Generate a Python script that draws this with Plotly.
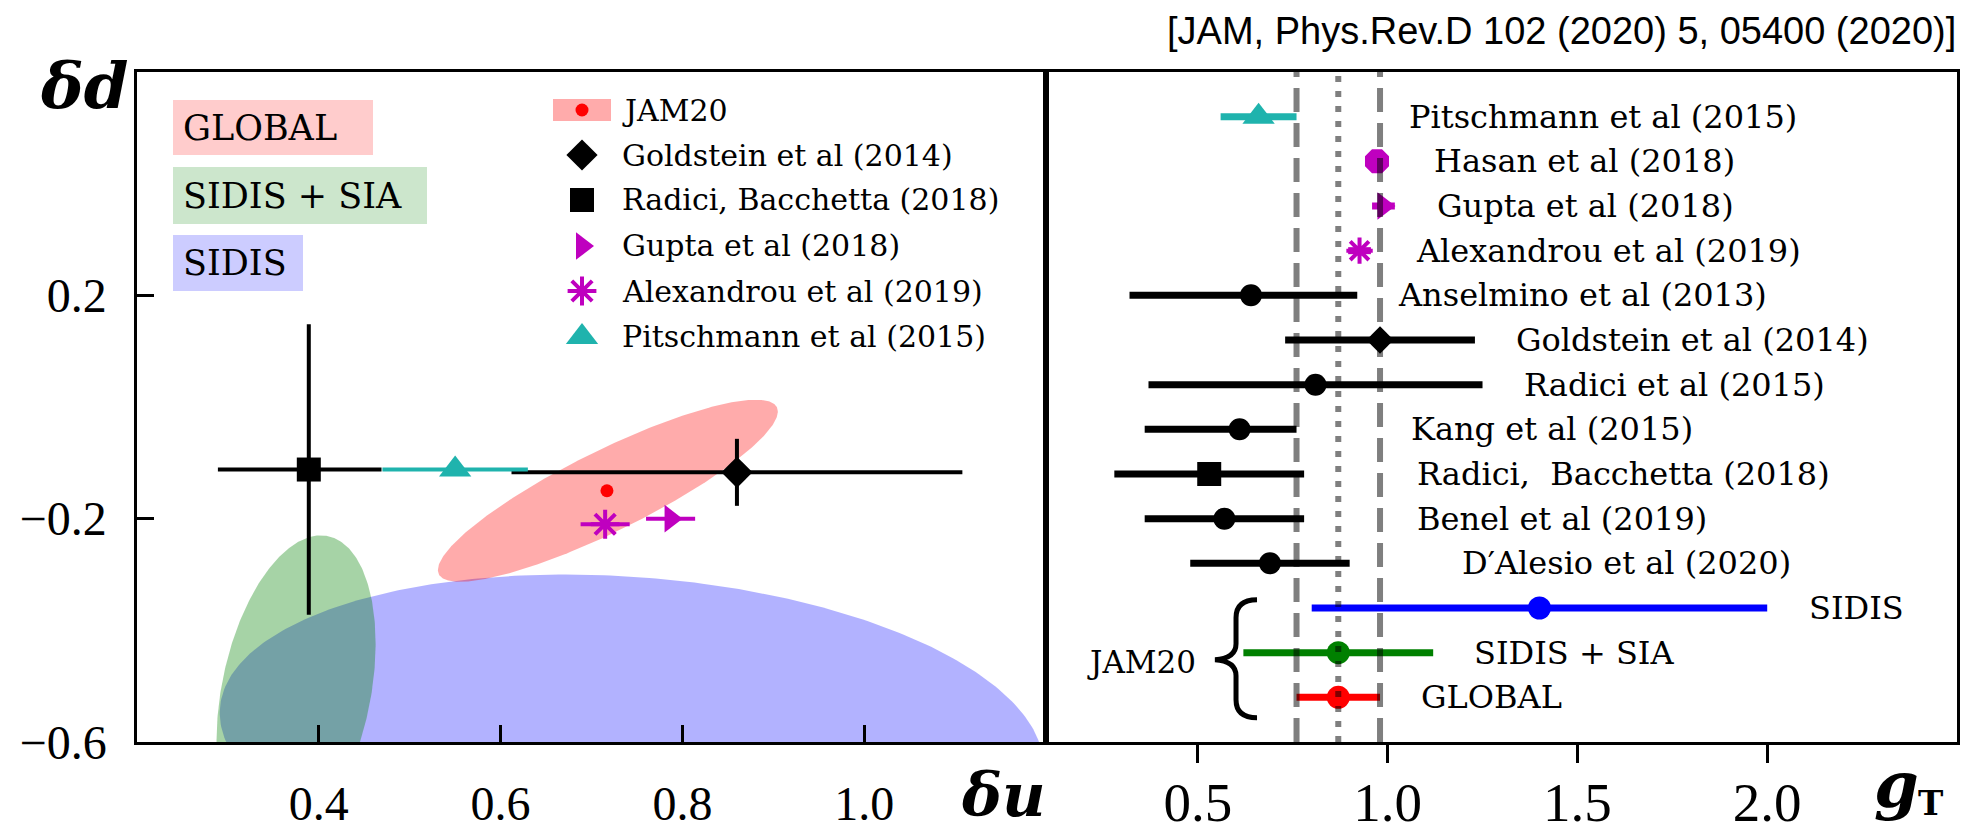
import numpy as np
import plotly.graph_objects as go

W, H = 1963, 833

# ---------------- left panel: (δu, δd) ----------------
pt_names = ["JAM20", "Goldstein et al (2014)", "Radici, Bacchetta (2018)",
            "Gupta et al (2018)", "Alexandrou et al (2019)", "Pitschmann et al (2015)"]
du_val = [0.717, 0.860, 0.389, 0.787, 0.715, 0.550]
dd_val = [-0.150, -0.117, -0.112, -0.200, -0.210, -0.112]
du_err_hi = [0.0, 0.248, 0.080, 0.027, 0.027, 0.080]
du_err_lo = [0.0, 0.248, 0.100, 0.027, 0.027, 0.080]
dd_err = [0.0, 0.060, 0.260, 0.0, 0.0, 0.0]

# JAM20 confidence regions (centre, half-extents, correlation)
ell_names = ["SIDIS", "SIDIS + SIA", "GLOBAL"]
ell_cx = [0.744, 0.375, 0.718]
ell_cy = [-0.595, -0.511, -0.150]
ell_sx = [0.453, 0.0875, 0.187]
ell_sy = [0.295, 0.281, 0.163]
ell_rho = [-0.16, 0.31, 0.87]

du_ticks = [0.4, 0.6, 0.8, 1.0]
du_ticktext = ["0.4", "0.6", "0.8", "1.0"]
dd_ticks = [-0.6, -0.2, 0.2]
dd_ticktext = ["\u22120.6", "\u22120.2", "0.2"]

# ---------------- right panel: tensor charge g_T ----------------
gt_names = ["Pitschmann et al (2015)", "Hasan et al (2018)", "Gupta et al (2018)",
            "Alexandrou et al (2019)", "Anselmino et al (2013)", "Goldstein et al (2014)",
            "Radici et al (2015)", "Kang et al (2015)", "Radici,  Bacchetta (2018)",
            "Benel et al (2019)", "D\u2032Alesio et al (2020)", "SIDIS", "SIDIS + SIA", "GLOBAL"]
gt_val = [0.66, 0.972, 0.989, 0.926, 0.64, 0.98, 0.81, 0.61, 0.53, 0.57, 0.69, 1.40, 0.87, 0.87]
gt_err_hi = [0.10, 0.03, 0.03, 0.03, 0.28, 0.25, 0.44, 0.15, 0.25, 0.21, 0.21, 0.60, 0.25, 0.11]
gt_err_lo = [0.10, 0.03, 0.03, 0.03, 0.32, 0.25, 0.44, 0.25, 0.25, 0.21, 0.21, 0.60, 0.25, 0.11]
gt_ticks = [0.5, 1.0, 1.5, 2.0]
gt_ticktext = ["0.5", "1.0", "1.5", "2.0"]

# label placement for the right panel (x start of each label, in g_T units)
gt_label_x = [1.05, 1.117, 1.125, 1.07, 1.023, 1.333, 1.355, 1.055, 1.073, 1.073,
              1.19, 2.105, 1.223, 1.083]

# ---------------- styles ----------------
MAG = "#bf00bf"
CYAN = "#1fb3ad"
SERIF = "DejaVu Serif"
TICKSERIF = "Liberation Serif"

pt_style = {
    "JAM20": ("circle", 13, "#ff0000"),
    "Goldstein et al (2014)": ("diamond", 24, "black"),
    "Radici, Bacchetta (2018)": ("square", 24, "black"),
    "Gupta et al (2018)": ("triangle-right", 24, MAG),
    "Alexandrou et al (2019)": ("asterisk-open", 24, MAG),
    "Pitschmann et al (2015)": ("triangle-up", 28, CYAN),
}
gt_style = {
    "Pitschmann et al (2015)": ("triangle-up", 28, CYAN),
    "Hasan et al (2018)": ("octagon", 26, MAG),
    "Gupta et al (2018)": ("triangle-right", 24, MAG),
    "Alexandrou et al (2019)": ("asterisk-open", 22, MAG),
    "Goldstein et al (2014)": ("diamond", 21, "black"),
    "Radici,  Bacchetta (2018)": ("square", 24, "black"),
    "SIDIS": ("circle", 23, "#0000ff"),
    "SIDIS + SIA": ("circle", 23, "#008000"),
    "GLOBAL": ("circle", 23, "#ff0000"),
}
ell_fill = {"SIDIS": "rgba(0,0,255,0.30)",
            "SIDIS + SIA": "rgba(0,128,0,0.35)",
            "GLOBAL": "rgba(255,0,0,0.33)"}
box_fill = {"GLOBAL": "rgba(255,0,0,0.2)",
            "SIDIS + SIA": "rgba(0,128,0,0.2)",
            "SIDIS": "rgba(0,0,255,0.2)"}


def px(x):
    return x / W


def py(y):
    return 1 - y / H


# panel frames in pixels
L0, L1, R1 = 137, 1046, 1957
T0, B0 = 72, 742

fig = go.Figure()


def marker_dict(sym, size, color):
    m = dict(symbol=sym, size=size, color=color)
    if sym.endswith("-open"):
        m["line"] = dict(color=color, width=4)
    else:
        m["line"] = dict(width=0)
    return m


# confidence ellipses
t = np.linspace(0, 2 * np.pi, 400)
for name, cx, cy, sx, sy, r in zip(ell_names, ell_cx, ell_cy, ell_sx, ell_sy, ell_rho):
    ex = cx + sx * np.cos(t)
    ey = cy + sy * (r * np.cos(t) + np.sqrt(1 - r * r) * np.sin(t))
    fig.add_trace(go.Scatter(x=ex, y=ey, mode="lines", fill="toself",
                             fillcolor=ell_fill[name], line=dict(width=0),
                             hoverinfo="skip", showlegend=False,
                             xaxis="x", yaxis="y"))

# points with error bars
for i, name in enumerate(pt_names):
    sym, size, color = pt_style[name]
    fig.add_trace(go.Scatter(
        x=[du_val[i]], y=[dd_val[i]], mode="markers", name=name,
        marker=marker_dict(sym, size, color),
        error_x=dict(type="data", symmetric=False, array=[du_err_hi[i]],
                     arrayminus=[du_err_lo[i]], thickness=4, width=0, color=color,
                     visible=bool(du_err_hi[i] > 0)),
        error_y=dict(type="data", array=[dd_err[i]], thickness=4, width=0,
                     color=color, visible=bool(dd_err[i] > 0)),
        showlegend=False, xaxis="x", yaxis="y"))

# right panel rows
rows = list(range(len(gt_names), 0, -1))
for i, name in enumerate(gt_names):
    sym, size, color = gt_style.get(name, ("circle", 22, "black"))
    fig.add_trace(go.Scatter(
        x=[gt_val[i]], y=[rows[i]], mode="markers", name=name,
        marker=marker_dict(sym, size, color),
        error_x=dict(type="data", symmetric=False, array=[gt_err_hi[i]],
                     arrayminus=[gt_err_lo[i]], thickness=7, width=0, color=color),
        showlegend=False, xaxis="x2", yaxis="y2"))

annotations = []
shapes = []

for i, name in enumerate(gt_names):
    annotations.append(dict(x=gt_label_x[i], y=rows[i], xref="x2", yref="y2",
                            text=name, showarrow=False, xanchor="left", yanchor="middle",
                            font=dict(family=SERIF, size=32, color="black")))

# JAM20 global band: central value and ±1σ
g_c = gt_val[-1]
g_lo = gt_val[-1] - gt_err_lo[-1]
g_hi = gt_val[-1] + gt_err_hi[-1]
for xv, dash in [(g_lo, "24px,11px"), (g_hi, "24px,11px"), (g_c, "6px,9px")]:
    shapes.append(dict(type="line", xref="x2", yref="y2 domain", x0=xv, x1=xv, y0=0, y1=1,
                       line=dict(color="rgba(0,0,0,0.5)", width=6, dash=dash), layer="above"))

# brace grouping the JAM20 rows
shapes.append(dict(type="path", xref="x2", yref="y2", xsizemode="pixel", ysizemode="pixel",
                   xanchor=0.54, yanchor=1.84,
                   path="M 44,60 C 30,60 23,54 23,42 L 23,16 C 23,6 16,1 2,0 "
                        "C 16,-1 23,-6 23,-16 L 23,-40 C 23,-52 30,-58 44,-58",
                   line=dict(color="black", width=5), fillcolor="rgba(0,0,0,0)"))
annotations.append(dict(x=0.50, y=1.80, xref="x2", yref="y2", text="JAM20", showarrow=False,
                        xanchor="right", yanchor="middle",
                        font=dict(family=SERIF, size=31, color="black")))

# coloured labels (top left)
boxes = [("GLOBAL", 173, 373, 100, 155), ("SIDIS + SIA", 173, 427, 167, 224),
         ("SIDIS", 173, 303, 235, 291)]
for label, x0, x1, y0, y1 in boxes:
    shapes.append(dict(type="rect", xref="paper", yref="paper", x0=px(x0), x1=px(x1),
                       y0=py(y1), y1=py(y0), fillcolor=box_fill[label],
                       line=dict(width=0), layer="above"))
    annotations.append(dict(x=px(181), y=py((y0 + y1) / 2), xref="paper", yref="paper",
                            text=label, showarrow=False, xanchor="left", yanchor="middle",
                            font=dict(family=SERIF, size=35, color="black")))

# legend of the left panel
leg_y = [110, 155, 200, 246, 291, 337]
leg_mx, leg_tx = 582, 620
shapes.append(dict(type="rect", xref="paper", yref="paper", x0=px(553), x1=px(611),
                   y0=py(121), y1=py(99),
                   fillcolor="rgba(255,0,0,0.33)", line=dict(width=0), layer="below"))
for i, name in enumerate(pt_names):
    sym, size, color = pt_style[name]
    fig.add_trace(go.Scatter(x=[leg_mx], y=[leg_y[i]], mode="markers",
                             marker=marker_dict(sym, size, color), cliponaxis=False,
                             hoverinfo="skip", showlegend=False, xaxis="x3", yaxis="y3"))
    annotations.append(dict(x=px(leg_tx), y=py(leg_y[i]), xref="paper", yref="paper",
                            text=name, showarrow=False, xanchor="left", yanchor="middle",
                            font=dict(family=SERIF, size=30, color="black")))

# axis titles
annotations.append(dict(x=px(38), y=py(85), xref="paper", yref="paper",
                        text="<b><i>\u03b4d</i></b>", showarrow=False, xanchor="left",
                        yanchor="middle", font=dict(family=SERIF, size=64, color="black")))
annotations.append(dict(x=px(1048), y=py(795), xref="paper", yref="paper",
                        text="<b><i>\u03b4u</i></b>", showarrow=False, xanchor="right",
                        yanchor="middle", font=dict(family=SERIF, size=60, color="black")))
annotations.append(dict(x=px(1872), y=py(784), xref="paper", yref="paper",
                        text="<b><i>g</i></b>", showarrow=False, xanchor="left",
                        yanchor="middle", font=dict(family=SERIF, size=64, color="black")))
annotations.append(dict(x=px(1916), y=py(803), xref="paper", yref="paper",
                        text="<b>T</b>", showarrow=False, xanchor="left",
                        yanchor="middle", font=dict(family=SERIF, size=34, color="black")))

# reference
annotations.append(dict(x=px(1958), y=py(31), xref="paper", yref="paper",
                        text="[JAM, Phys.Rev.D 102 (2020) 5, 05400 (2020)]",
                        showarrow=False, xanchor="right", yanchor="middle",
                        font=dict(family="Liberation Sans, Arial", size=38, color="black")))

frame = dict(showline=True, linecolor="black", linewidth=2.5, mirror=True,
             showgrid=False, zeroline=False, tickcolor="black", tickwidth=2.5,
             automargin=False)

fig.update_layout(
    width=W, height=H, margin=dict(l=0, r=0, t=0, b=0, autoexpand=False),
    paper_bgcolor="white", plot_bgcolor="rgba(0,0,0,0)", showlegend=False,
    xaxis=dict(domain=[px(L0), px(L1)], range=[0.2, 1.2], anchor="y",
               tickvals=du_ticks, ticktext=du_ticktext, ticks="inside", ticklen=17,
               tickfont=dict(family=TICKSERIF, size=48, color="black"),
               ticklabelstandoff=18, **frame),
    yaxis=dict(domain=[py(B0), py(T0)], range=[-0.6, 0.6], anchor="x",
               tickvals=dd_ticks, ticktext=dd_ticktext, ticks="inside", ticklen=17,
               tickfont=dict(family=TICKSERIF, size=48, color="black"),
               ticklabelstandoff=18, **frame),
    xaxis2=dict(domain=[px(L1), px(R1)], range=[0.1, 2.5], anchor="y2",
                tickvals=gt_ticks, ticktext=gt_ticktext, ticks="outside", ticklen=18,
                tickfont=dict(family=TICKSERIF, size=55, color="black"),
                ticklabelstandoff=-8, **frame),
    yaxis2=dict(domain=[py(B0), py(T0)], range=[0, 15], anchor="x2",
                showticklabels=False, ticks="", **frame),
    xaxis3=dict(domain=[0, 1], range=[0, W], anchor="y3", visible=False, automargin=False),
    yaxis3=dict(domain=[0, 1], range=[H, 0], anchor="x3", visible=False, automargin=False),
    annotations=annotations, shapes=shapes,
)

fig.write_html("out.html")
